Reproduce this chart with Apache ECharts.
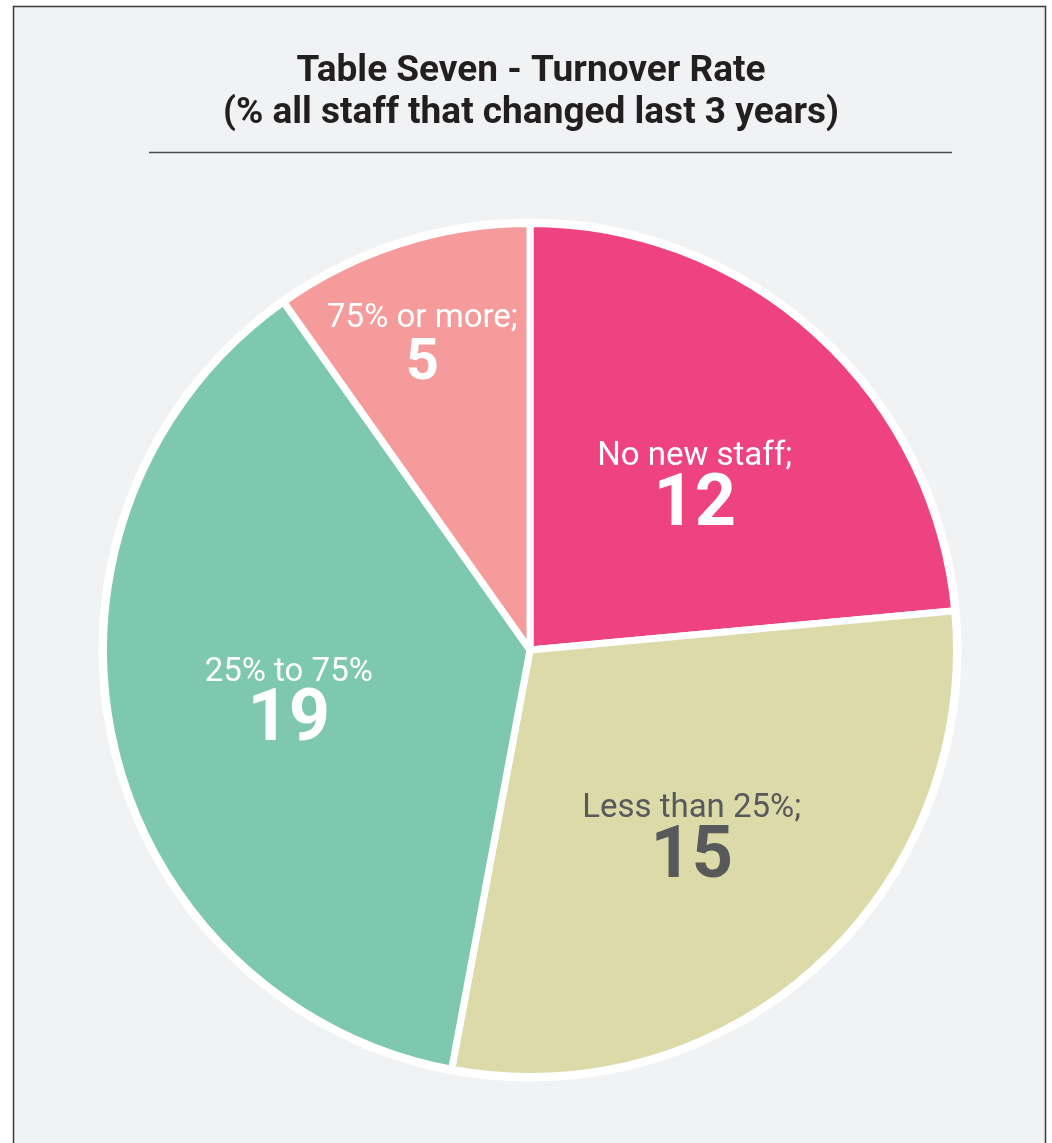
<!DOCTYPE html>
<html>
<head>
<meta charset="utf-8">
<script src="https://cdn.jsdelivr.net/npm/echarts@6/dist/echarts.min.js"></script>
<style>
html,body{margin:0;padding:0;background:#ffffff;}
#chart{width:1052px;height:1143px;}
</style>
</head>
<body>
<div id="chart"></div>
<script>
// Data
const titleLine1 = 'Table Seven - Turnover Rate';
const titleLine2 = '(% all staff that changed last 3 years)';
const categories = ['No new staff;', 'Less than 25%;', '25% to 75%', '75% or more;'];
const values = [12, 15, 19, 5];

// Styles
const sliceColors = ['#ef4280', '#dbdaa8', '#7ec8b0', '#f59b9b'];
const labelColors = ['#ffffff', '#58595b', '#ffffff', '#ffffff'];
const valueFontSizes = [72, 72, 72, 58];
const valueLineHeights = [64, 64, 64, 56];
const labelShift = [[19, -1], [16, 31], [-30, 8], [-42, -97]];

const chart = echarts.init(document.getElementById('chart'), null, {renderer: 'canvas'});

const pieData = categories.map((name, i) => ({
  name: name,
  value: values[i],
  itemStyle: {color: sliceColors[i]},
  label: {
    color: labelColors[i],
    rich: {
      n: {fontFamily: 'Roboto', fontSize: 33, fontWeight: 'normal', color: labelColors[i], lineHeight: 36, align: 'center'},
      v: {fontFamily: 'Roboto', fontSize: valueFontSizes[i], fontWeight: 'bold', color: labelColors[i], lineHeight: valueLineHeights[i], align: 'center'}
    }
  }
}));

const option = {
  backgroundColor: '#ffffff',
  animation: false,
  title: {
    text: titleLine1 + '\n' + titleLine2,
    left: 526,
    top: 46,
    textAlign: 'center',
    textStyle: {fontFamily: 'Roboto', fontWeight: 'bold', fontSize: 37, lineHeight: 42, color: '#231f20'}
  },
  graphic: [
    {type: 'rect', z: -10, shape: {x: 13.5, y: 6.5, width: 1032, height: 1160},
     style: {fill: '#f1f2f4', stroke: '#3a3a3a', lineWidth: 1.5}},
    {type: 'line', shape: {x1: 149, y1: 152.5, x2: 952, y2: 152.5},
     style: {stroke: '#4d4d4d', lineWidth: 1.3}}
  ],
  series: [
    {
      type: 'pie',
      silent: true,
      center: [530, 650],
      radius: [0, 431.5],
      z: 1,
      label: {show: false},
      labelLine: {show: false},
      itemStyle: {color: '#ffffff'},
      data: [{name: 'ring', value: 1}]
    },
    {
      type: 'pie',
      center: [530, 650],
      radius: [0, 426.5],
      startAngle: 90,
      clockwise: true,
      z: 2,
      itemStyle: {borderColor: '#ffffff', borderWidth: 7},
      label: {
        show: true,
        position: 'inside',
        formatter: p => '{n|' + p.name + '}\n{v|' + p.value + '}'
      },
      labelLine: {show: false},
      labelLayout: p => ({dx: labelShift[p.dataIndex][0], dy: labelShift[p.dataIndex][1]}),
      emphasis: {disabled: true},
      data: pieData
    }
  ]
};
chart.setOption(option);
</script>
</body>
</html>
